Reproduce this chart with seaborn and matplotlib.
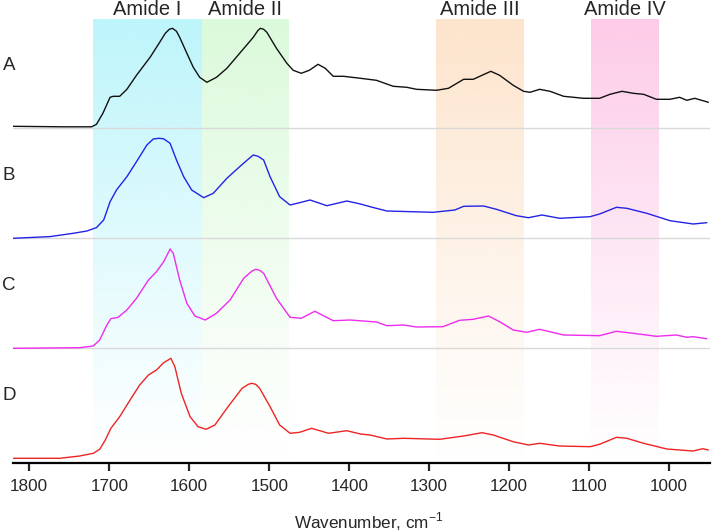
import numpy as np
import pandas as pd
import matplotlib
matplotlib.use("Agg")
import matplotlib.pyplot as plt
import seaborn as sns

# ---------------- data ----------------
samples = ["A", "B", "C", "D"]
colors = ["#111111", "#2323e6", "#ee2cee", "#ee2424"]
offsets = [330, 220, 110, 0]

wA = [1820, 1760, 1722, 1716, 1708, 1699, 1695, 1687, 1678, 1666, 1649, 1637, 1630, 1625, 1621, 1616, 1612, 1603,
      1595, 1587, 1578, 1566, 1553, 1537, 1520, 1514, 1511, 1507, 1503, 1491, 1478, 1470, 1460, 1450, 1439, 1430,
      1420, 1407, 1386, 1366, 1345, 1328, 1316, 1291, 1276, 1257, 1245, 1234, 1223, 1212, 1195, 1182,
      1174, 1162, 1149, 1132, 1107, 1087, 1074, 1059, 1045, 1032, 1016, 999, 987, 978, 968, 951]
hA = [2, 1.5, 1.5, 4, 15, 31, 32, 32, 39, 53, 71, 86, 95, 99, 100, 97, 91, 75,
      61, 51, 46, 51, 60, 75, 91, 98, 100, 99, 96, 80, 65, 58, 55, 58, 64, 60,
      52, 52, 50, 48, 42, 41, 39, 38, 40, 49, 49, 53, 57, 53, 43, 37,
      36, 39, 37, 32, 30, 30, 34, 37, 35, 34, 29, 29, 31, 28, 30, 26]

wB = [1820, 1774, 1745, 1728, 1716, 1707, 1699, 1691, 1678, 1666, 1653, 1645, 1638, 1632, 1624, 1616, 1607,
      1597, 1582, 1570, 1553, 1537, 1525, 1520, 1514, 1507, 1499, 1487, 1474, 1462, 1449, 1428, 1403, 1386, 1374,
      1353, 1295, 1268, 1257, 1232, 1216, 1191, 1176, 1159, 1137, 1099, 1087, 1066, 1053, 1028, 999,
      970, 953]
hB = [0, 1.7, 5, 7.3, 10.7, 18.3, 36.6, 48.3, 61.6, 76.6, 93.3, 99.3, 100, 99.5, 95, 78.3, 61.6,
      48.3, 40.6, 45, 60, 71.6, 80, 83.3, 82, 78.3, 61.6, 41.6, 33.3, 35.6, 38.3, 32.6, 37.3, 34.3, 31.6,
      27.3, 26, 28.3, 32, 32.3, 29, 22.6, 20.6, 23.3, 20, 21.6, 24.3, 31, 30, 25, 17.6,
      14.3, 15.6]

wC = [1820, 1737, 1720, 1712, 1703, 1698, 1689, 1678, 1666, 1651, 1641, 1632, 1626, 1624, 1620, 1612, 1603,
      1593, 1580, 1566, 1549, 1532, 1522, 1517, 1512, 1507, 1491, 1474, 1460, 1443, 1420, 1399, 1366, 1353, 1332,
      1316, 1283, 1262, 1245, 1226, 1212, 1195, 1178, 1162, 1132, 1087, 1066, 1045, 1016, 991, 978,
      970, 953]
hC = [0, 0.6, 2.3, 8.3, 23.3, 29.6, 31, 38.3, 50, 68.3, 76.6, 86.6, 96, 99.3, 95, 68.3, 45,
      32.3, 28.3, 35, 48.3, 70, 77, 79, 78, 75, 50, 31, 30, 37, 27.6, 28.3, 26.3, 22.6, 23.3,
      21.3, 21.6, 28, 29, 32.3, 26.6, 18.3, 16, 19, 13.3, 12.6, 17, 15, 12, 13.3, 11,
      11.6, 9.6]

wD = [1820, 1762, 1737, 1720, 1712, 1705, 1698, 1687, 1674, 1662, 1651, 1641, 1632, 1626, 1623, 1618, 1610,
      1599, 1589, 1579, 1568, 1553, 1534, 1526, 1522, 1517, 1512, 1499, 1487, 1474, 1462, 1447, 1426, 1403, 1386,
      1374, 1353, 1332, 1287, 1257, 1234, 1220, 1195, 1176, 1162, 1137, 1099, 1087, 1066, 1053, 1032,
      1003, 970, 958, 951]
hD = [0, 0, 2.3, 5, 9, 18.3, 30, 41.6, 58.3, 73.3, 83.3, 88.3, 95.6, 98.5, 100, 91.6, 65,
      41.6, 31.6, 29, 33.3, 50, 70, 74, 75, 74, 70, 51.6, 33.3, 25, 26, 30, 25, 27.6, 24.3,
      23.3, 19.3, 20, 19, 22.3, 25.6, 23.3, 16.6, 13.3, 15, 12.3, 11.6, 14, 21, 20, 15,
      9.3, 7.3, 9.6, 8.3]

band_labels = ["Amide I", "Amide II", "Amide III", "Amide IV"]
band_start = [1720, 1584, 1291, 1098]
band_end = [1584, 1476, 1182, 1014]
band_colors = ["#bdf5fb", "#dbfadb", "#fde4cc", "#fdcbe8"]

xticks = [1800, 1700, 1600, 1500, 1400, 1300, 1200, 1100, 1000]

# ---------------- figure ----------------
sns.set_style("white")
plt.rcParams["font.family"] = ["Liberation Sans", "DejaVu Sans"]
plt.rcParams["mathtext.fontset"] = "custom"
plt.rcParams["mathtext.rm"] = "Liberation Sans"

fig = plt.figure(figsize=(7.12, 5.32), dpi=100)
ax = fig.add_axes([13.3 / 712, (532 - 463.3) / 532, (710 - 13.3) / 712, 463.3 / 532])

ymin, ymax = -5, 458.3
band_top = 438.3

# gradient bands
for lab, x0, x1, c in zip(band_labels, band_start, band_end, band_colors):
    rgb = matplotlib.colors.to_rgb(c)
    n = 256
    img = np.zeros((n, 1, 4))
    img[:, 0, :3] = rgb
    img[:, 0, 3] = np.linspace(1.0, 0.0, n) ** 1.1
    ax.imshow(img, extent=(x0, x1, ymin, band_top), aspect="auto", origin="upper",
              zorder=0, interpolation="bilinear")
    ax.text((x0 + x1) / 2, 449, lab, ha="center", va="center", fontsize=14.5, zorder=5)

# separator lines
for off in offsets[:-1]:
    ax.axhline(off, color="#d9d9d9", lw=1.0, zorder=1)

# spectra
frames = []
for s, w, h, off in zip(samples, [wA, wB, wC, wD], [hA, hB, hC, hD], offsets):
    frames.append(pd.DataFrame({"w": w, "y": np.array(h) + off, "sample": s}))
df = pd.concat(frames, ignore_index=True)
sns.lineplot(data=df, x="w", y="y", hue="sample", palette=dict(zip(samples, colors)),
             estimator=None, sort=False, legend=False, lw=1.0, ax=ax, zorder=3)

for s, off in zip(samples, offsets):
    ax.text(1825.6, off + 63, s, ha="center", va="center", fontsize=13.5, clip_on=False)

ax.set_xlim(1820, 949)
ax.set_ylim(ymin, ymax)
ax.set_xticks(xticks)
ax.set_yticks([])
for sp in ["top", "left", "right"]:
    ax.spines[sp].set_visible(False)
ax.spines["bottom"].set_linewidth(1.6)
ax.spines["bottom"].set_color("black")
ax.tick_params(axis="x", direction="out", length=6, width=1.6, labelsize=12.3, pad=5, bottom=True)
ax.set_xlabel(r"Wavenumber, cm$^{\mathregular{-1}}$", fontsize=12.3)
ax.xaxis.label.set_va("baseline")
ax.xaxis.set_label_coords((369 - 13.3) / 696.7, (463.3 - 528) / 463.3)
ax.set_ylabel("")

fig.savefig("out.png", dpi=100)
